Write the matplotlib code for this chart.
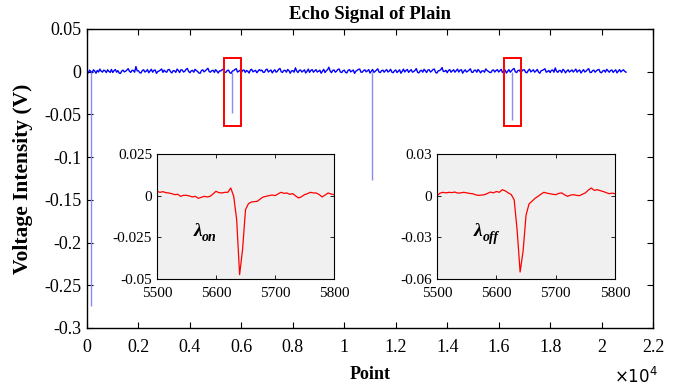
import numpy as np
import matplotlib
matplotlib.use('Agg')
import matplotlib.pyplot as plt
from matplotlib.patches import Rectangle

plt.rcParams['font.family'] = 'Liberation Serif'

# main trace baseline, one reading every 50 points (units of 0.1 mV)
base_step = 50
base_01mV = [
    5, -14, 18, 2, -12, 22, 8, -18, 15, -4, 30, 6, -5, 18, 10, -10, 22, 4, -8, 26,
    -10, 12, 25, -6, 12, -16, -20, 8, 18, -2, 5, 20, 35, 4, -8, 16, 14, -6, 60, 10,
    10, -12, -15, 14, 22, -4, 6, 24, -12, 8, 28, -6, 15, 20, -20, 2, 8, 18, 32, -8,
    18, 0, -6, 24, 25, -2, -14, 12, 10, -8, 30, 14, -10, 22, 20, -4, 5, 28, 38, 2,
    -12, 10, 15, -6, 28, 12, 2, -16, -18, 14, 22, -2, 10, 26, 40, 0, -5, 12, 16, -8,
    24, 6, -15, 10, 8, 22, 30, -6, -8, 14, 18, -10, -20, 8, 12, 26, 35, -4, 5, 18,
    -10, 16, 20, -8, 14, 4, -16, 20, 28, -2, 8, 16, -12, 6, 25, 10, 18, -8, -6, 22,
    30, -4, 10, 20, -14, 8, 22, -6, 5, 28, 38, -2, -8, 14, 16, -6, 26, 12, -18, 10,
    12, -6, 45, 8, -10, 16, 20, -4, 8, 22, -15, 4, 30, -8, 14, 24, -6, 10, 24, -4,
    5, 18, -18, 6, 28, -10, 10, 24, 52, 8, -12, 14, 20, -6, 6, 26, 32, -4, -10, 12,
    18, -8, -14, 16, 25, -2, 8, 20, -20, 6, 15, 28, 30, -6, -6, 14, 22, -2, 10, 24,
    -16, 6, 26, -8, 4, 18, 34, -4, -10, 12, 18, -6, 12, 24, -4, 8, 28, -6, -12, 10,
    20, -10, 6, 22, -18, 4, 30, -4, 14, 26, -8, 10, 24, -6, 2, 16, 36, -8, -14, 10,
    16, -6, 28, 8, -10, 20, 22, -4, 8, 26, 30, -8, -16, 10, 12, 24, 48, 2, 4, 16,
    -12, 14, 24, -6, 10, 22, -6, 12, 30, -4, 16, 24, -18, 6, 22, -4, 6, 18, 34, -6,
    -8, 16, 18, -6, 26, 8, -14, 10, 10, -6, 32, 14, 4, -8, -10, 16, 20, -4, 14, 24,
    -4, 12, 28, -10, 8, 20, -16, 4, 24, -6, 12, 28, 38, -2, -10, 14, 18, -4, 6, 22,
    22, -8, -12, 14, 30, -2, 10, 22, -6, 8, 26, -4, -18, 10, 16, 24, 34, -6, 2, 14,
    -10, 16, 20, -6, 44, 6, -8, 14, 14, -10, 28, 12, -14, 8, 22, -4, 8, 20, -4, 12,
    30, -6, 12, 20, -16, 6, 24, -4, 6, 24, 36, -8, -10, 12, 18, -6, 10, 22, 26, -8,
    -12, 10, 16, -6, 28, 10, -6, 14, 20, -8, 8, 22, -14, 4, 24, -4, 12, 22, 4, -6,
]
spike_pos = [155, 5640, 11080, 16520]
spike_depth = [-0.274, -0.048, -0.127, -0.056]

# zoom boxes (x0, x1) on the main plot
box_x = [(5330, 5985), (16210, 16870)]
box_y = (-0.063, 0.0163)

# inset traces, one reading every 5 points (units of 0.1 mV)
inset_x = np.arange(5500, 5801, 5)
on_01mV = [
    26, 20, 24, 18, 16, 12, 6, 8, -4, 2,
    2, -2, -8, -4, -16, -10, -4, -8, -4, 10,
    26, 18, 16, 20, 20, 46, -4, -144, -474, -324,
    -84, -48, -38, -36, -34, -20, -8, -4, 0, 4,
    0, 10, 20, 14, 16, 8, 12, -2, -14, -6,
    6, 12, 20, 16, 16, 6, -8, 4, 16, 10, 6,
]
off_01mV = [
    0, 18, 24, 20, 24, 22, 26, 18, 20, 24,
    20, 16, 14, 6, 2, 4, 7, 16, 26, 20,
    30, 24, 43, 34, 20, 8, -30, -250, -550, -400,
    -140, -60, -40, -20, -5, 10, 24, 18, 14, 10,
    7, 16, 20, 6, -5, 4, 7, 2, 0, 10,
    20, 40, 55, 38, 43, 36, 30, 22, 14, 18, 14,
]

base_x = np.arange(len(base_01mV)) * base_step
base_v = np.array(base_01mV) * 1e-4

fig = plt.figure(figsize=(6.73, 3.92), dpi=100)
ax = fig.add_axes([0.1293, 0.1633, 0.8410, 0.7628])
ax.plot(base_x, base_v, color='blue', lw=1.0)
ax.vlines(spike_pos, 0, spike_depth, color='#8c8cf2', lw=1.0)
for x0, x1 in box_x:
    ax.add_patch(Rectangle((x0, box_y[0]), x1 - x0, box_y[1] - box_y[0],
                           fill=False, ec='red', lw=1.4, zorder=5))
ax.set_xlim(0, 22000)
ax.set_ylim(-0.3, 0.05)
ax.set_xticks(np.arange(0, 22001, 2000))
ax.set_xticklabels(['0', '0.2', '0.4', '0.6', '0.8', '1', '1.2', '1.4', '1.6', '1.8', '2', '2.2'])
ax.set_yticks([0.05, 0, -0.05, -0.1, -0.15, -0.2, -0.25, -0.3])
ax.set_yticklabels(['0.05', '0', '-0.05', '-0.1', '-0.15', '-0.2', '-0.25', '-0.3'])
ax.tick_params(axis='both', direction='in', top=True, right=True, labelsize=13, length=4, width=0.8)
ax.tick_params(axis='x', pad=8)
ax.tick_params(axis='y', pad=4)
for s in ax.spines.values():
    s.set_linewidth(1.0)
ax.set_title('Echo Signal of Plain', fontsize=13.5, fontweight='bold', pad=7)
ax.set_xlabel('Point', fontsize=13, fontweight='bold', labelpad=7)
ax.set_ylabel('Voltage Intensity (V)', fontsize=15.5, fontweight='bold', labelpad=8)
fig.text(0.912, 0.022, r'$\times10^{4}$', fontsize=12)


def inset(rect, vals, ylim, yticks, ylabels, sub):
    a = fig.add_axes(rect)
    a.set_facecolor('#f0f0f0')
    a.plot(inset_x, np.array(vals) * 1e-4, color='red', lw=0.9)
    a.set_xlim(5500, 5800)
    a.set_ylim(*ylim)
    a.set_xticks([5500, 5600, 5700, 5800])
    a.set_yticks(yticks)
    a.set_yticklabels(ylabels)
    a.tick_params(direction='in', top=True, right=True, labelsize=11, length=3, width=0.6)
    a.tick_params(axis='x', pad=6)
    for s in a.spines.values():
        s.set_linewidth(0.8)
    a.text(0.205, 0.345, 'λ', transform=a.transAxes, fontsize=14,
           fontweight='bold', style='italic')
    a.text(0.255, 0.30, sub, transform=a.transAxes, fontsize=10,
           fontweight='bold', style='italic')
    return a


inset([0.2333, 0.2883, 0.2630, 0.3189], on_01mV, (-0.05, 0.025),
      [-0.05, -0.025, 0, 0.025], ['-0.05', '-0.025', '0', '0.025'], 'on')
inset([0.6494, 0.2883, 0.2645, 0.3189], off_01mV, (-0.06, 0.03),
      [-0.06, -0.03, 0, 0.03], ['-0.06', '-0.03', '0', '0.03'], 'off')

fig.savefig('out.png', dpi=100)
